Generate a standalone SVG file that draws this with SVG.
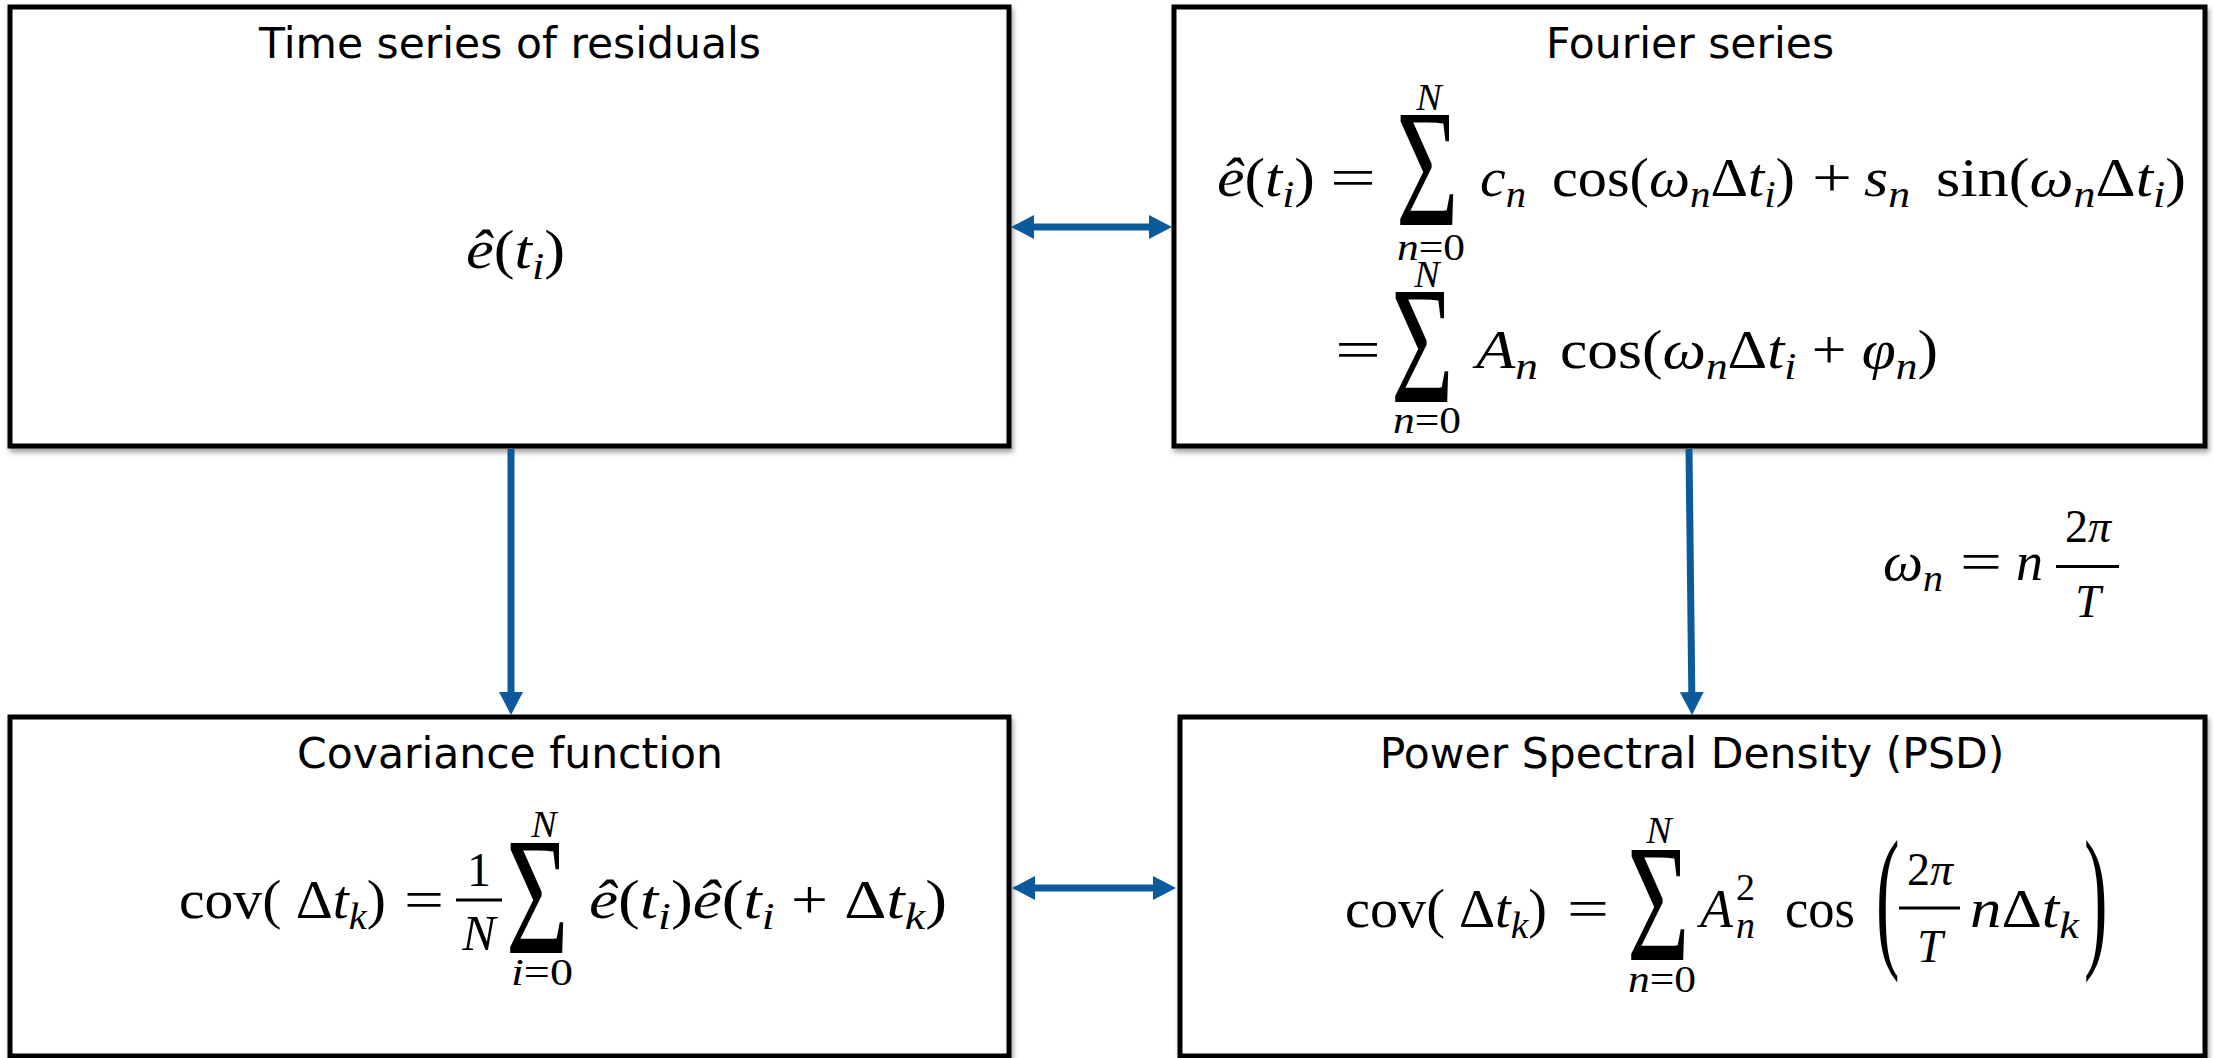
<svg xmlns="http://www.w3.org/2000/svg" width="2213" height="1058" viewBox="0 0 2213 1058">
<style>
.box{fill:#fff;stroke:#000;stroke-width:5}
.t{font-family:"DejaVu Sans",Verdana,sans-serif;font-size:42.5px;fill:#000;text-anchor:middle}
.m{font-family:"Liberation Serif","Times New Roman",serif;font-size:54px;fill:#000}
.i{font-style:italic}
.s{font-size:38px}
.f{font-size:46px}
.mid{text-anchor:middle}
.big{font-size:168px}
.par{font-size:157px}
.bar{stroke:#000;stroke-width:3}
.conn{stroke:#0B5A9C;stroke-width:7;fill:none}
</style>
<defs>
<filter id="sh" x="-5%" y="-5%" width="110%" height="115%">
<feDropShadow dx="2" dy="4" stdDeviation="2.5" flood-color="#000" flood-opacity="0.35"/>
</filter>
<marker id="ah" viewBox="0 0 23 24" markerWidth="23" markerHeight="24" refX="1" refY="12" orient="auto-start-reverse" markerUnits="userSpaceOnUse">
<path d="M0,0 L23,12 L0,24 Z" fill="#0B5A9C"/>
</marker>
</defs>
<rect width="2213" height="1058" fill="#fff"/>

<g id="node-time-series">
<rect class="box" x="10" y="7" width="999" height="439" filter="url(#sh)"/>
<text class="t" x="510" y="58">Time series of residuals</text>
<text class="m" x="466" y="268" textLength="99" lengthAdjust="spacingAndGlyphs"><tspan class="i">ê</tspan>(<tspan class="i">t</tspan><tspan class="i s" dy="11">i</tspan><tspan dy="-11">)</tspan></text>
</g>

<g id="node-fourier">
<rect class="box" x="1174" y="7" width="1031" height="439" filter="url(#sh)"/>
<text class="t" x="1690" y="58">Fourier series</text>
<text class="m" x="1217" y="196" textLength="98" lengthAdjust="spacingAndGlyphs"><tspan class="i">ê</tspan>(<tspan class="i">t</tspan><tspan class="i s" dy="11">i</tspan><tspan dy="-11">)</tspan></text>
<text class="m" x="1330" y="196" textLength="46" lengthAdjust="spacingAndGlyphs">=</text>
<text class="m big" transform="translate(1396,225) scale(0.64,1)">Σ</text>
<text class="m s i mid" x="1429" y="110">N</text>
<text class="m s mid" x="1431" y="260" textLength="68" lengthAdjust="spacingAndGlyphs"><tspan class="i">n</tspan>=0</text>
<text class="m" x="1480" y="196" textLength="46" lengthAdjust="spacingAndGlyphs"><tspan class="i">c</tspan><tspan class="i s" dy="11">n</tspan></text>
<text class="m" x="1552" y="196" textLength="243" lengthAdjust="spacingAndGlyphs">cos(<tspan class="i">ω</tspan><tspan class="i s" dy="11">n</tspan><tspan dy="-11">Δ</tspan><tspan class="i">t</tspan><tspan class="i s" dy="11">i</tspan><tspan dy="-11">)</tspan></text>
<text class="m" x="1812" y="196" textLength="40" lengthAdjust="spacingAndGlyphs">+</text>
<text class="m" x="1864" y="196" textLength="46" lengthAdjust="spacingAndGlyphs"><tspan class="i">s</tspan><tspan class="i s" dy="11">n</tspan></text>
<text class="m" x="1936" y="196" textLength="250" lengthAdjust="spacingAndGlyphs">sin(<tspan class="i">ω</tspan><tspan class="i s" dy="11">n</tspan><tspan dy="-11">Δ</tspan><tspan class="i">t</tspan><tspan class="i s" dy="11">i</tspan><tspan dy="-11">)</tspan></text>

<text class="m" x="1335" y="368" textLength="46" lengthAdjust="spacingAndGlyphs">=</text>
<text class="m big" transform="translate(1391,402) scale(0.64,1)">Σ</text>
<text class="m s i mid" x="1427" y="287">N</text>
<text class="m s mid" x="1427" y="433" textLength="68" lengthAdjust="spacingAndGlyphs"><tspan class="i">n</tspan>=0</text>
<text class="m" x="1476" y="368" textLength="62" lengthAdjust="spacingAndGlyphs"><tspan class="i">A</tspan><tspan class="i s" dy="11">n</tspan></text>
<text class="m" x="1560" y="368" textLength="378" lengthAdjust="spacingAndGlyphs">cos(<tspan class="i">ω</tspan><tspan class="i s" dy="11">n</tspan><tspan dy="-11">Δ</tspan><tspan class="i">t</tspan><tspan class="i s" dy="11">i</tspan><tspan dy="-11"> + </tspan><tspan class="i">φ</tspan><tspan class="i s" dy="11">n</tspan><tspan dy="-11">)</tspan></text>
</g>

<g id="node-covariance">
<rect class="box" x="10" y="717" width="999" height="339" filter="url(#sh)"/>
<text class="t" x="510" y="768">Covariance function</text>
<text class="m" x="179" y="918" textLength="207" lengthAdjust="spacingAndGlyphs">cov( Δ<tspan class="i">t</tspan><tspan class="i s" dy="11">k</tspan><tspan dy="-11">)</tspan></text>
<text class="m" x="404" y="918" textLength="40" lengthAdjust="spacingAndGlyphs">=</text>
<text class="m mid" x="479" y="886" style="font-size:48px">1</text>
<line class="bar" x1="456" y1="900" x2="502" y2="900"/>
<text class="m i mid" x="479" y="950" style="font-size:50px">N</text>
<text class="m big" transform="translate(506,953) scale(0.64,1)">Σ</text>
<text class="m s i mid" x="544" y="837">N</text>
<text class="m s mid" x="542" y="985" textLength="62" lengthAdjust="spacingAndGlyphs"><tspan class="i">i</tspan>=0</text>
<text class="m" x="589" y="918" textLength="358" lengthAdjust="spacingAndGlyphs"><tspan class="i">ê</tspan>(<tspan class="i">t</tspan><tspan class="i s" dy="11">i</tspan><tspan dy="-11">)</tspan><tspan class="i">ê</tspan>(<tspan class="i">t</tspan><tspan class="i s" dy="11">i</tspan><tspan dy="-11"> + Δ</tspan><tspan class="i">t</tspan><tspan class="i s" dy="11">k</tspan><tspan dy="-11">)</tspan></text>
</g>

<g id="node-psd">
<rect class="box" x="1180" y="717" width="1025" height="339" filter="url(#sh)"/>
<text class="t" x="1692" y="768">Power Spectral Density (PSD)</text>
<text class="m" x="1345" y="927" textLength="202" lengthAdjust="spacingAndGlyphs">cov( Δ<tspan class="i">t</tspan><tspan class="i s" dy="11">k</tspan><tspan dy="-11">)</tspan></text>
<text class="m" x="1567" y="927" textLength="42" lengthAdjust="spacingAndGlyphs">=</text>
<text class="m big" transform="translate(1627,960) scale(0.64,1)">Σ</text>
<text class="m s i mid" x="1659" y="843">N</text>
<text class="m s mid" x="1662" y="992" textLength="68" lengthAdjust="spacingAndGlyphs"><tspan class="i">n</tspan>=0</text>
<text class="m i" x="1700" y="927">A</text>
<text class="m s" x="1736" y="900">2</text>
<text class="m s i" x="1736" y="938">n</text>
<text class="m" x="1785" y="927" textLength="70" lengthAdjust="spacingAndGlyphs">cos</text>
<text class="m par" transform="translate(1876,949) scale(0.45,1)">(</text>
<text class="m f mid" x="1930" y="885">2<tspan class="i">π</tspan></text>
<line class="bar" x1="1899" y1="908" x2="1960" y2="908"/>
<text class="m f i mid" x="1930" y="962">T</text>
<text class="m" x="1970" y="927" textLength="109" lengthAdjust="spacingAndGlyphs"><tspan class="i">n</tspan>Δ<tspan class="i">t</tspan><tspan class="i s" dy="11">k</tspan></text>
<text class="m par" transform="translate(2084,949) scale(0.45,1)">)</text>
</g>

<g id="connectors">
<line class="conn" x1="1033" y1="227" x2="1150" y2="227" marker-start="url(#ah)" marker-end="url(#ah)"/>
<line class="conn" x1="1034" y1="888" x2="1154" y2="888" marker-start="url(#ah)" marker-end="url(#ah)"/>
<line class="conn" x1="511" y1="449" x2="511" y2="693" marker-end="url(#ah)"/>
<line class="conn" x1="1689" y1="449" x2="1691.8" y2="693" marker-end="url(#ah)"/>
</g>

<g id="label-omega">
<text class="m" x="1883" y="580" textLength="60" lengthAdjust="spacingAndGlyphs"><tspan class="i">ω</tspan><tspan class="i s" dy="11">n</tspan></text>
<text class="m" x="1960" y="580" textLength="42" lengthAdjust="spacingAndGlyphs">=</text>
<text class="m i" x="2016" y="580">n</text>
<line class="bar" x1="2056" y1="566.5" x2="2119" y2="566.5"/>
<text class="m f mid" x="2088" y="542">2<tspan class="i">π</tspan></text>
<text class="m f i mid" x="2088" y="617">T</text>
</g>
</svg>
